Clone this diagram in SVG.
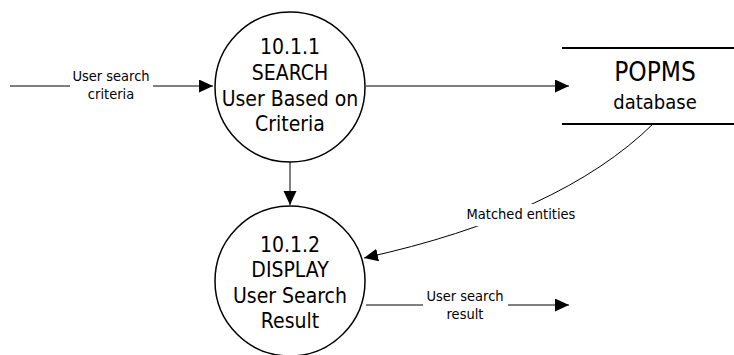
<svg xmlns="http://www.w3.org/2000/svg" width="734" height="355" viewBox="0 0 734 355">
<style>
text{font-family:"DejaVu Sans Condensed","DejaVu Sans",sans-serif;font-stretch:condensed;fill:#000;text-anchor:middle}
.big{font-size:21px}
.lbl{font-size:14.5px}
.proc{fill:#fff;stroke:#000;stroke-width:1.5}
.flow{fill:none;stroke:#000;stroke-width:1}
.store{stroke:#000;stroke-width:2}
</style>
<defs>
<marker id="arr" markerUnits="userSpaceOnUse" markerWidth="15" markerHeight="14" refX="14" refY="6.5" orient="auto">
<path d="M0,0 L14,6.5 L0,13 z" fill="#000"/>
</marker>
</defs>
<rect width="734" height="355" fill="#fff"/>
<g id="connectors">
<path class="flow" d="M10,86 H70 M153,86 H213" marker-end="url(#arr)"/>
<path class="flow" d="M366,86 H569" marker-end="url(#arr)"/>
<path class="flow" d="M290,162 V205" marker-end="url(#arr)"/>
<path class="flow" d="M653,124 Q560,215 364,258" marker-end="url(#arr)"/>
<rect x="456" y="204" width="130" height="22" fill="#fff"/>
<path class="flow" d="M366,305 H423 M508,305 H569" marker-end="url(#arr)"/>
<text class="lbl" x="111" y="81">User search</text>
<text class="lbl" x="111" y="98.5">criteria</text>
<text class="lbl" x="521" y="219">Matched entities</text>
<text class="lbl" x="465" y="301">User search</text>
<text class="lbl" x="465" y="318.5">result</text>
</g>
<g id="p1">
<circle class="proc" cx="290" cy="87" r="75"/>
<text class="big" x="290" y="54">10.1.1</text>
<text class="big" x="290" y="80">SEARCH</text>
<text class="big" x="290" y="106">User Based on</text>
<text class="big" x="290" y="131">Criteria</text>
</g>
<g id="p2">
<circle class="proc" cx="290" cy="281" r="75"/>
<text class="big" x="290" y="252">10.1.2</text>
<text class="big" x="290" y="277">DISPLAY</text>
<text class="big" x="290" y="303">User Search</text>
<text class="big" x="290" y="328">Result</text>
</g>
<g id="ds">
<line class="store" x1="562" y1="48" x2="734" y2="48"/>
<line class="store" x1="562" y1="124" x2="734" y2="124"/>
<text x="655" y="81" style="font-size:26px">POPMS</text>
<text x="655" y="109" style="font-size:20px">database</text>
</g>
</svg>
